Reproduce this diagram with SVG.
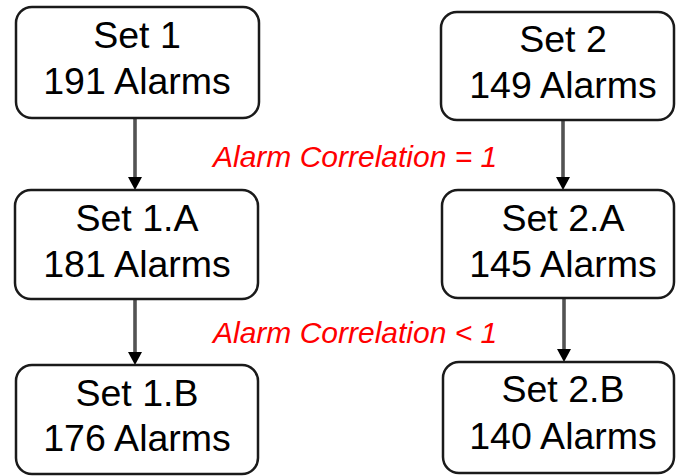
<svg xmlns="http://www.w3.org/2000/svg" width="676" height="476" viewBox="0 0 676 476">
  <defs>
    <style>
      .box { fill: #ffffff; stroke: #1a1a1a; stroke-width: 2.5; }
      .lbl { font-family: "Liberation Sans", Arial, sans-serif; font-size: 37.5px; fill: #000000; text-anchor: middle; }
      .note { font-family: "Liberation Sans", Arial, sans-serif; font-size: 30px; font-style: italic; fill: #ff0000; }
      .edge { stroke: #1a1a1a; stroke-width: 3.2; fill: none; }
      .edge-core { stroke: #8c8c8c; stroke-width: 1; fill: none; }
      .head { fill: #000000; }
    </style>
  </defs>
  <rect width="676" height="476" fill="#ffffff"/>

  <!-- connectors -->
  <g id="connectors">
    <line class="edge" x1="135" y1="119" x2="135" y2="178"/>
    <line class="edge-core" x1="135" y1="119" x2="135" y2="178"/>
    <polygon class="head" points="128,177 142,177 135,190"/>

    <line class="edge" x1="135" y1="300" x2="135" y2="353"/>
    <line class="edge-core" x1="135" y1="300" x2="135" y2="353"/>
    <polygon class="head" points="128,352 142,352 135,365"/>

    <line class="edge" x1="563" y1="121" x2="563" y2="178"/>
    <line class="edge-core" x1="563" y1="121" x2="563" y2="178"/>
    <polygon class="head" points="556,177 570,177 563,190"/>

    <line class="edge" x1="564" y1="299" x2="564" y2="350"/>
    <line class="edge-core" x1="564" y1="299" x2="564" y2="350"/>
    <polygon class="head" points="557,349 571,349 564,362"/>
  </g>

  <!-- correlation labels -->
  <text class="note" x="213" y="167">Alarm Correlation = 1</text>
  <text class="note" x="213" y="343">Alarm Correlation &lt; 1</text>

  <g id="set1">
    <rect class="box" x="16" y="7" width="243" height="111" rx="16"/>
    <text class="lbl" x="137" y="48">Set 1</text>
    <text class="lbl" x="137" y="94">191 Alarms</text>
  </g>
  <g id="set1a">
    <rect class="box" x="15" y="190" width="243" height="109" rx="16"/>
    <text class="lbl" x="137" y="231">Set 1.A</text>
    <text class="lbl" x="137" y="277">181 Alarms</text>
  </g>
  <g id="set1b">
    <rect class="box" x="16" y="365" width="242" height="109" rx="16"/>
    <text class="lbl" x="137" y="406">Set 1.B</text>
    <text class="lbl" x="137" y="451">176 Alarms</text>
  </g>
  <g id="set2">
    <rect class="box" x="441" y="12" width="233" height="108" rx="16"/>
    <text class="lbl" x="563" y="52">Set 2</text>
    <text class="lbl" x="563" y="98">149 Alarms</text>
  </g>
  <g id="set2a">
    <rect class="box" x="442" y="190" width="232" height="108" rx="16"/>
    <text class="lbl" x="563" y="231">Set 2.A</text>
    <text class="lbl" x="563" y="277">145 Alarms</text>
  </g>
  <g id="set2b">
    <rect class="box" x="443" y="362" width="231" height="111" rx="16"/>
    <text class="lbl" x="563" y="402">Set 2.B</text>
    <text class="lbl" x="563" y="449">140 Alarms</text>
  </g>
</svg>
